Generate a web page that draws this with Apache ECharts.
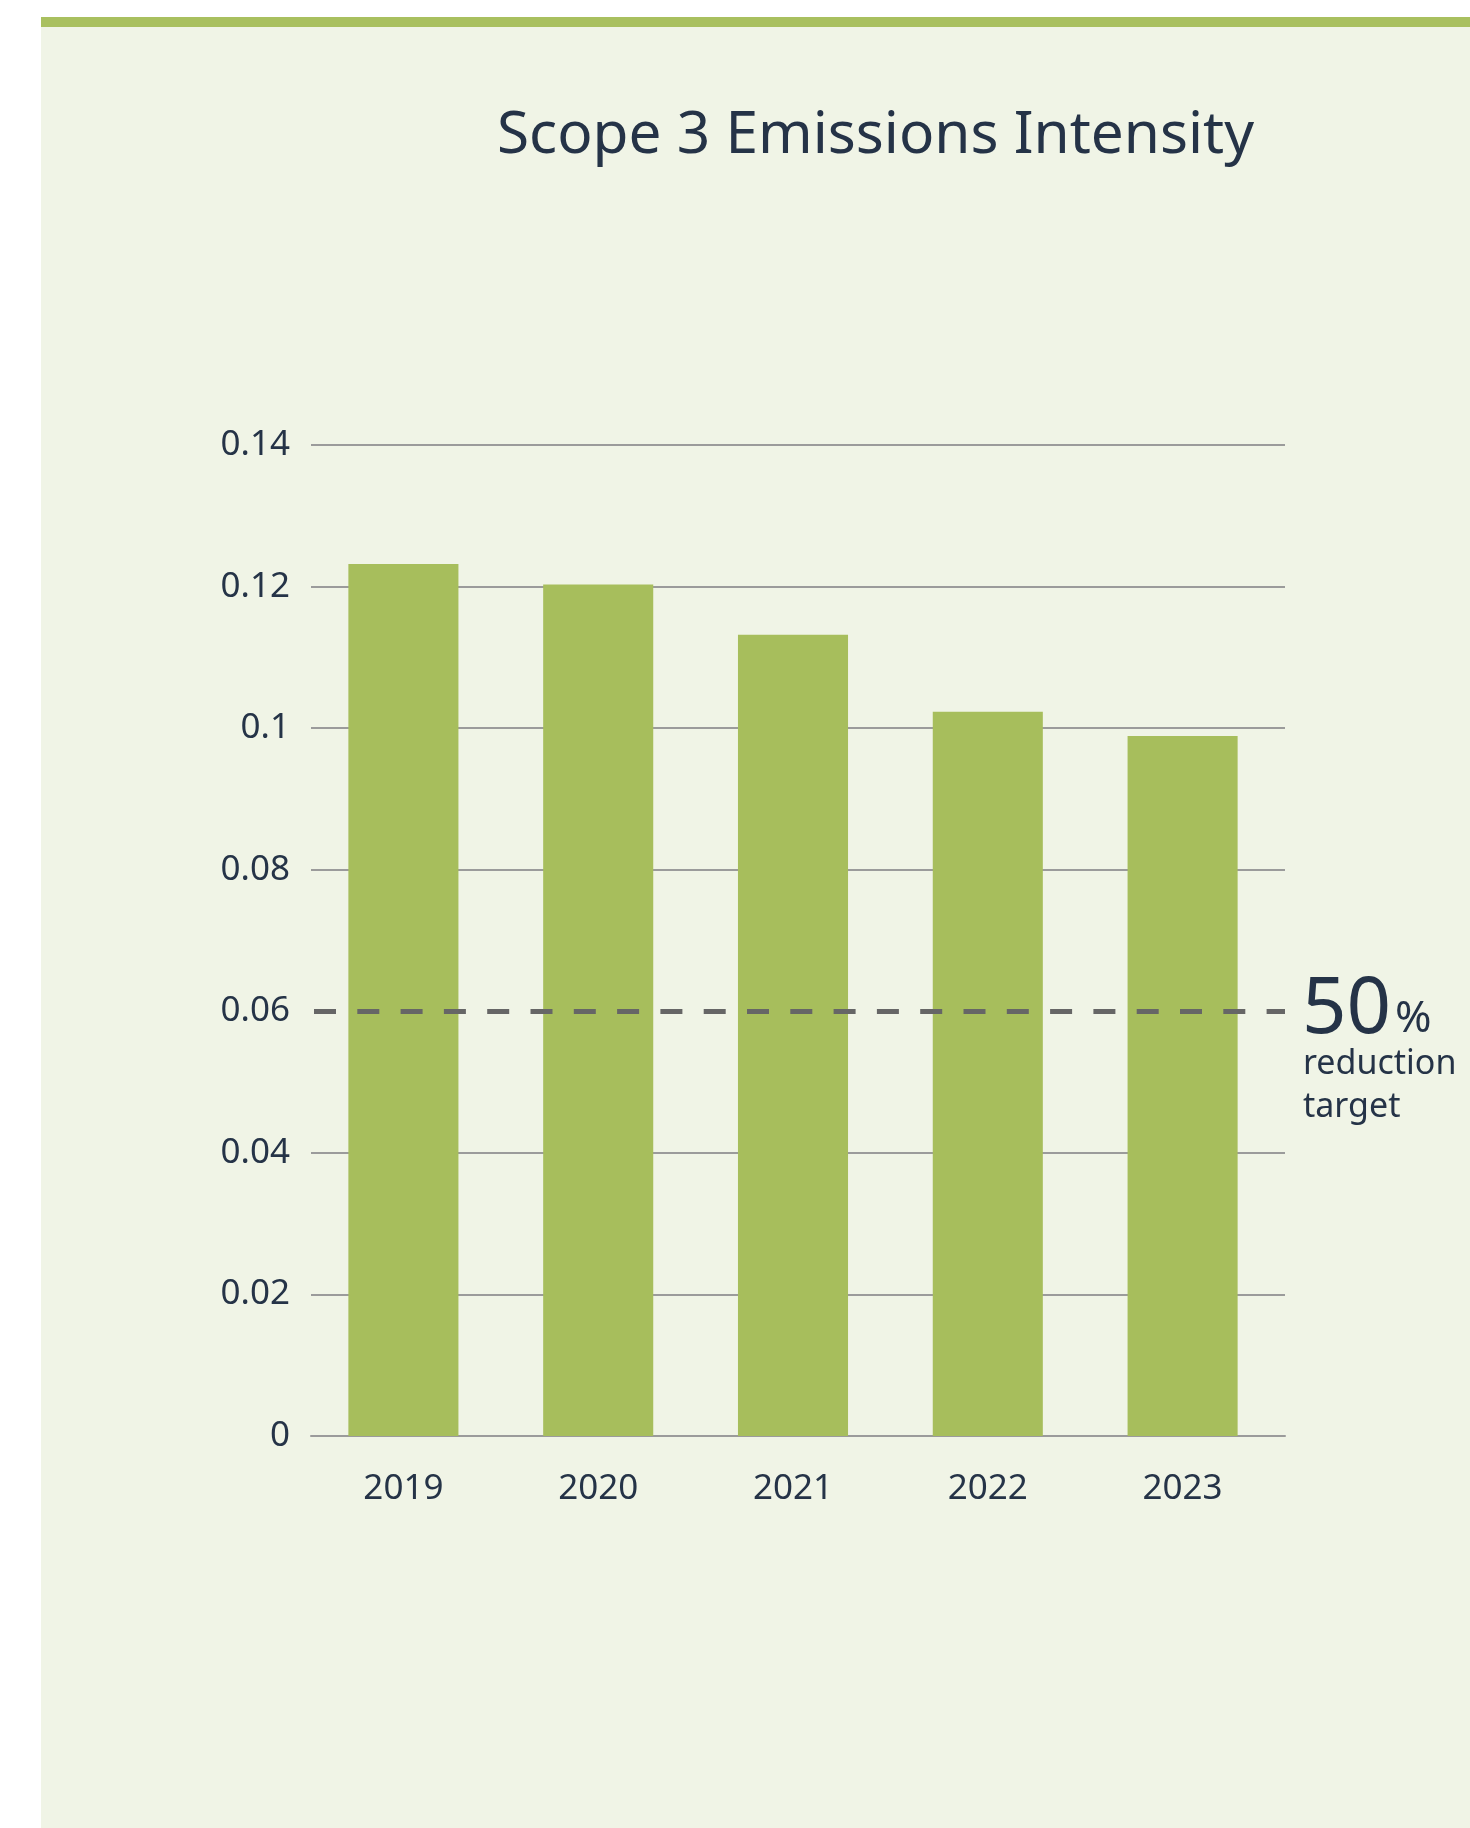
<!DOCTYPE html>
<html><head><meta charset="utf-8">
<script src="https://cdn.jsdelivr.net/npm/echarts@6/dist/echarts.min.js"></script>
<style>html,body{margin:0;padding:0;background:#fff;}#c{width:1470px;height:1828px;}</style>
</head><body><div id="c"></div>
<script>
// ---- data ----
const titleText = 'Scope 3 Emissions Intensity';
const categories = ['2019', '2020', '2021', '2022', '2023'];
const intensity = [0.1232, 0.1203, 0.1132, 0.1023, 0.0989];
const yMin = 0, yMax = 0.14, yStep = 0.02;
const targetValue = 0.06;
const targetBig = '50';
const targetPct = '%';
const targetLines = ['reduction', 'target'];

// ---- style ----
const FONT = '"Noto Sans", "Open Sans", sans-serif';
const INK = '#253347';
const GREEN = '#A7BE5C';
const PANEL = '#F0F4E6';
const GRIDC = '#9b9b9b';

const chart = echarts.init(document.getElementById('c'), null, {renderer: 'canvas'});
const option = {
  backgroundColor: '#ffffff',
  animation: false,
  title: {
    text: titleText, left: 492, top: 102,
    textStyle: {fontFamily: FONT, fontSize: 58.5, fontWeight: 'normal', color: INK}
  },
  grid: [
    {left: 311, right: 185, top: 445, bottom: 392, containLabel: false},
    {left: 306, right: 190, top: 445, bottom: 392, containLabel: false}
  ],
  xAxis: [
    {
      type: 'category', data: categories, gridIndex: 0,
      axisLine: {show: true, lineStyle: {color: GRIDC, width: 2}},
      axisTick: {show: false}, axisLabel: {show: false}
    },
    {
      type: 'category', data: categories, gridIndex: 1,
      axisLine: {show: false}, axisTick: {show: false},
      axisLabel: {fontFamily: FONT, fontSize: 35, color: INK, margin: 36}
    }
  ],
  yAxis: [
    {
      type: 'value', min: yMin, max: yMax, interval: yStep, gridIndex: 0,
      axisLine: {show: false}, axisTick: {show: false},
      splitLine: {lineStyle: {color: GRIDC, width: 2}},
      axisLabel: {fontFamily: FONT, fontSize: 35, color: INK, margin: 21}
    },
    {
      type: 'value', min: yMin, max: yMax, interval: yStep, gridIndex: 1,
      axisLine: {show: false}, axisTick: {show: false},
      splitLine: {show: false}, axisLabel: {show: false}
    }
  ],
  series: [
    {
      // hides the plain gridline under the dashed target line (below the bars)
      type: 'line', data: [], xAxisIndex: 0, yAxisIndex: 0, z: 1,
      markLine: {
        silent: true, symbol: 'none', z: 1, label: {show: false},
        lineStyle: {color: PANEL, width: 4, type: 'solid'},
        data: [{yAxis: targetValue}]
      }
    },
    {
      type: 'bar', data: intensity, barWidth: '56.5%',
      xAxisIndex: 1, yAxisIndex: 1,
      itemStyle: {color: GREEN}, z: 2
    },
    {
      type: 'line', data: [], xAxisIndex: 0, yAxisIndex: 0, z: 5,
      markLine: {
        silent: true, symbol: 'none', z: 5,
        label: {show: false},
        lineStyle: {color: '#666666', width: 5, type: [22, 21.3], dashOffset: -3},
        data: [{yAxis: targetValue}]
      }
    }
  ]
};
chart.setOption(option);

const lineY = chart.convertToPixel({yAxisIndex: 0}, targetValue);
const labelX = 1302;
chart.setOption({
  graphic: [
    {type: 'rect', z: -10, silent: true, shape: {x: 41, y: 17, width: 1429, height: 1811}, style: {fill: PANEL}},
    {type: 'rect', z: -9, silent: true, shape: {x: 41, y: 17, width: 1429, height: 10}, style: {fill: '#A9C05F'}},
    {type: 'text', z: 10, x: labelX, y: lineY - 1,
      style: {text: targetBig, font: '78px ' + FONT, fill: INK, verticalAlign: 'middle', align: 'left'}},
    {type: 'text', z: 10, x: labelX + 93, y: lineY + 8,
      style: {text: targetPct, font: '44px ' + FONT, fill: INK, verticalAlign: 'middle', align: 'left'}},
    {type: 'text', z: 10, x: labelX + 1, y: lineY + 53,
      style: {text: targetLines[0], font: '34px ' + FONT, fill: INK, verticalAlign: 'middle', align: 'left'}},
    {type: 'text', z: 10, x: labelX + 1, y: lineY + 96,
      style: {text: targetLines[1], font: '34px ' + FONT, fill: INK, verticalAlign: 'middle', align: 'left'}}
  ]
});
</script></body></html>
